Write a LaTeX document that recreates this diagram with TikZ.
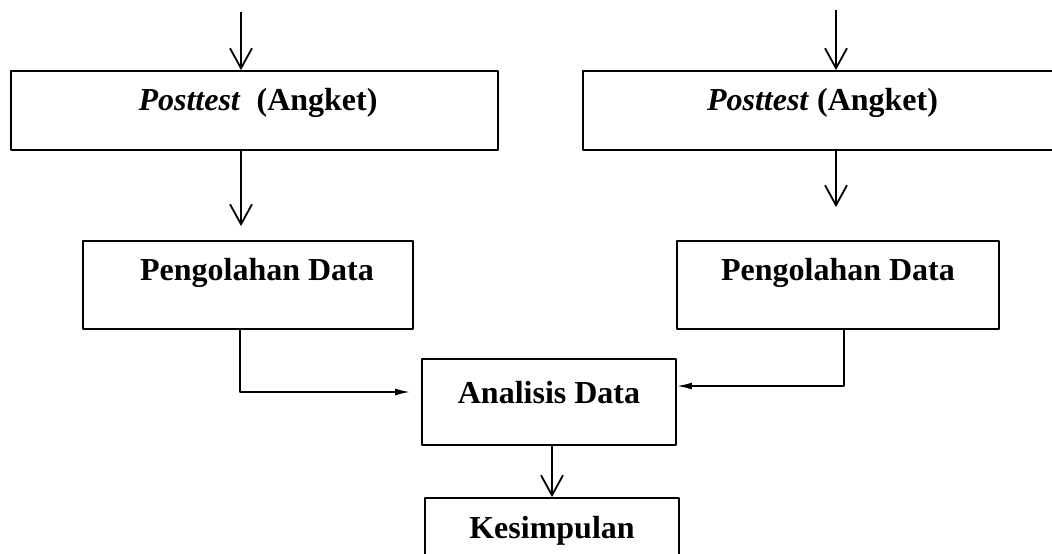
\documentclass[tikz,border=0pt]{standalone}
\usepackage{fontspec}
\setmainfont{Liberation Serif}
\usetikzlibrary{positioning,arrows.meta}

\begin{document}
\begin{tikzpicture}[>={Straight Barb[length=20bp,width=22bp,line width=1.8bp]},line join=bevel,
  box/.style={draw,line width=1.8bp,inner sep=0pt,font=\fontsize{32bp}{36bp}\selectfont\bfseries},
  flow/.style={black,line width=1.8bp,->},
  merge/.style={black,line width=1.8bp,-{Latex[length=15bp,width=7bp]}}]
%%
\useasboundingbox (0bp,0bp) rectangle (1052bp,-554bp);
\coordinate (startL) at (241bp,-12bp);
\coordinate (startR) at (836bp,-10bp);
\node (posttestL) at (254.5bp,-110.5bp) [box,minimum width=487bp,text height=39bp,text depth=40bp] {\hspace*{7bp}\textit{Posttest}\ \ (Angket)};
  \node (posttestR) at (836bp,-110.5bp) [box,minimum width=506bp,text height=39bp,text depth=40bp] {\textit{Posttest} (Angket)\hspace*{27bp}};
  \node (olahL) at (248bp,-285bp) [box,minimum width=330bp,text height=39bp,text depth=49bp] {\hspace*{18bp}Pengolahan Data};
  \node (olahR) at (838bp,-285bp) [box,minimum width=322bp,text height=39bp,text depth=49bp] {Pengolahan Data};
  \node (analisis) at (549bp,-402bp) [box,minimum width=254bp,text height=44bp,text depth=42bp] {Analisis Data};
  \node (kesimpulan) at (552bp,-536.5bp) [box,minimum width=254bp,text height=40bp,text depth=37bp] {Kesimpulan};
  \draw [flow] (startL) -- (startL |- posttestL.north);
  \draw [flow] (startR) -- (startR |- posttestR.north);
  \draw [flow,shorten >=14bp] (startL |- posttestL.south) -- (startL |- olahL.north);
  \draw [flow,shorten >=33bp] (posttestR.south) -- (posttestR.south |- olahR.north);
  \draw [merge,shorten >=11bp] ([xshift=-8bp]olahL.south) |- ([yshift=10bp]analisis.west);
  \draw [merge] ([xshift=6bp]olahR.south) |- ([yshift=16bp]analisis.east);
  \draw [flow] (kesimpulan.north |- analisis.south) -- (kesimpulan.north);
%
\end{tikzpicture}
\end{document}
